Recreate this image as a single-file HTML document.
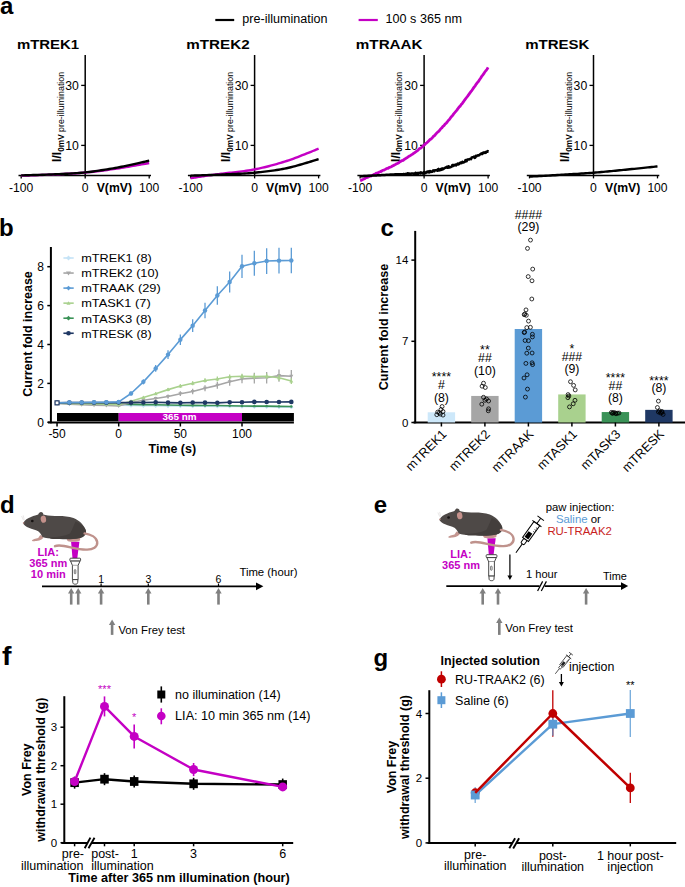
<!DOCTYPE html>
<html><head><meta charset="utf-8"><title>Figure</title>
<style>
html,body{margin:0;padding:0;background:#fff;}
svg{display:block;}
text{font-family:"Liberation Sans",sans-serif;}
</style></head>
<body>
<svg width="685" height="887" viewBox="0 0 685 887">
<rect width="685" height="887" fill="#fff"/>
<text x="0.00" y="14.00" font-size="24" font-weight="bold">a</text>
<line x1="215.30" y1="20.00" x2="234.20" y2="20.00" stroke="#000" stroke-width="2.2"/>
<text x="242.30" y="23.20" font-size="12.5" textLength="85.20" lengthAdjust="spacingAndGlyphs">pre-illumination</text>
<line x1="358.60" y1="20.00" x2="377.80" y2="20.00" stroke="#c400c4" stroke-width="2.2"/>
<text x="385.60" y="23.20" font-size="12.5" textLength="76.30" lengthAdjust="spacingAndGlyphs">100 s 365 nm</text>
<text x="16.90" y="48.80" font-size="13.5" font-weight="bold" textLength="62.30" lengthAdjust="spacingAndGlyphs">mTREK1</text>
<line x1="85.20" y1="55.00" x2="85.20" y2="176.15" stroke="#000" stroke-width="1.5"/>
<line x1="18.50" y1="175.40" x2="151.00" y2="175.40" stroke="#000" stroke-width="1.5"/>
<line x1="81.20" y1="85.40" x2="85.20" y2="85.40" stroke="#000" stroke-width="1.3"/>
<text x="78.90" y="89.60" font-size="12" text-anchor="end" textLength="13.60" lengthAdjust="spacingAndGlyphs">30</text>
<line x1="81.20" y1="145.40" x2="85.20" y2="145.40" stroke="#000" stroke-width="1.3"/>
<text x="78.90" y="149.60" font-size="12" text-anchor="end" textLength="13.60" lengthAdjust="spacingAndGlyphs">10</text>
<line x1="21.20" y1="175.40" x2="21.20" y2="178.40" stroke="#000" stroke-width="1.3"/>
<line x1="85.20" y1="175.40" x2="85.20" y2="178.40" stroke="#000" stroke-width="1.3"/>
<line x1="149.20" y1="175.40" x2="149.20" y2="178.40" stroke="#000" stroke-width="1.3"/>
<text x="21.20" y="191.60" font-size="12" text-anchor="middle" textLength="24.20" lengthAdjust="spacingAndGlyphs">-100</text>
<text x="85.20" y="191.60" font-size="12" text-anchor="middle" textLength="6.80" lengthAdjust="spacingAndGlyphs">0</text>
<text x="96.70" y="191.60" font-size="12" font-weight="bold" textLength="35.30" lengthAdjust="spacingAndGlyphs">V(mV)</text>
<text x="149.20" y="191.60" font-size="12" text-anchor="middle" textLength="20.20" lengthAdjust="spacingAndGlyphs">100</text>
<text transform="translate(60.60,162.00) rotate(-90)" font-size="12.2" font-weight="bold">I/I<tspan font-size="8.3" dy="2.9">0mV </tspan><tspan font-size="8.9" font-weight="normal">pre-illumination</tspan></text>
<polyline points="21.20,175.70 22.32,175.66 23.67,175.61 25.22,175.56 26.95,175.50 28.84,175.44 30.86,175.37 32.99,175.30 35.20,175.22 37.48,175.14 39.79,175.06 42.13,174.97 44.45,174.88 46.74,174.79 48.98,174.69 51.14,174.60 53.20,174.50 55.20,174.40 57.20,174.31 59.20,174.21 61.20,174.11 63.20,174.02 65.20,173.92 67.20,173.81 69.20,173.70 71.20,173.59 73.20,173.47 75.20,173.34 77.20,173.20 79.20,173.06 81.20,172.90 83.20,172.73 85.20,172.55 87.20,172.36 89.20,172.15 91.20,171.94 93.20,171.72 95.20,171.48 97.20,171.24 99.20,171.00 101.20,170.74 103.20,170.48 105.20,170.21 107.20,169.94 109.20,169.66 111.20,169.37 113.20,169.09 115.20,168.79 117.20,168.50 119.26,168.19 121.42,167.85 123.66,167.49 125.95,167.12 128.27,166.73 130.61,166.34 132.92,165.94 135.20,165.55 137.41,165.16 139.54,164.79 141.56,164.43 143.45,164.10 145.18,163.80 146.73,163.53 148.08,163.29 149.20,163.10" fill="none" stroke="#c400c4" stroke-width="2.4" stroke-linejoin="round"/>
<polyline points="21.20,175.40 22.32,175.36 23.67,175.33 25.22,175.28 26.95,175.23 28.84,175.18 30.86,175.12 32.99,175.06 35.20,175.00 37.48,174.93 39.79,174.86 42.13,174.78 44.45,174.70 46.74,174.62 48.98,174.53 51.14,174.44 53.20,174.35 55.20,174.26 57.20,174.17 59.20,174.08 61.20,173.99 63.20,173.90 65.20,173.81 67.20,173.71 69.20,173.61 71.20,173.50 73.20,173.38 75.20,173.25 77.20,173.11 79.20,172.95 81.20,172.79 83.20,172.60 85.20,172.40 87.20,172.18 89.20,171.95 91.20,171.71 93.20,171.45 95.20,171.18 97.20,170.90 99.20,170.61 101.20,170.31 103.20,170.00 105.20,169.68 107.20,169.35 109.20,169.01 111.20,168.67 113.20,168.32 115.20,167.96 117.20,167.60 119.26,167.21 121.42,166.79 123.66,166.34 125.95,165.86 128.27,165.37 130.61,164.86 132.92,164.36 135.20,163.85 137.41,163.35 139.54,162.87 141.56,162.42 143.45,161.99 145.18,161.60 146.73,161.25 148.08,160.95 149.20,160.70" fill="none" stroke="#000" stroke-width="2.4" stroke-linejoin="round"/>
<text x="186.30" y="48.80" font-size="13.5" font-weight="bold" textLength="63.30" lengthAdjust="spacingAndGlyphs">mTREK2</text>
<line x1="254.60" y1="55.00" x2="254.60" y2="176.15" stroke="#000" stroke-width="1.5"/>
<line x1="187.90" y1="175.40" x2="320.40" y2="175.40" stroke="#000" stroke-width="1.5"/>
<line x1="250.60" y1="85.40" x2="254.60" y2="85.40" stroke="#000" stroke-width="1.3"/>
<text x="248.30" y="89.60" font-size="12" text-anchor="end" textLength="13.60" lengthAdjust="spacingAndGlyphs">30</text>
<line x1="250.60" y1="145.40" x2="254.60" y2="145.40" stroke="#000" stroke-width="1.3"/>
<text x="248.30" y="149.60" font-size="12" text-anchor="end" textLength="13.60" lengthAdjust="spacingAndGlyphs">10</text>
<line x1="190.60" y1="175.40" x2="190.60" y2="178.40" stroke="#000" stroke-width="1.3"/>
<line x1="254.60" y1="175.40" x2="254.60" y2="178.40" stroke="#000" stroke-width="1.3"/>
<line x1="318.60" y1="175.40" x2="318.60" y2="178.40" stroke="#000" stroke-width="1.3"/>
<text x="190.60" y="191.60" font-size="12" text-anchor="middle" textLength="24.20" lengthAdjust="spacingAndGlyphs">-100</text>
<text x="254.60" y="191.60" font-size="12" text-anchor="middle" textLength="6.80" lengthAdjust="spacingAndGlyphs">0</text>
<text x="266.10" y="191.60" font-size="12" font-weight="bold" textLength="35.30" lengthAdjust="spacingAndGlyphs">V(mV)</text>
<text x="318.60" y="191.60" font-size="12" text-anchor="middle" textLength="20.20" lengthAdjust="spacingAndGlyphs">100</text>
<text transform="translate(230.00,162.00) rotate(-90)" font-size="12.2" font-weight="bold">I/I<tspan font-size="8.3" dy="2.9">0mV </tspan><tspan font-size="8.9" font-weight="normal">pre-illumination</tspan></text>
<polyline points="190.60,178.25 191.16,178.16 191.83,178.05 192.61,177.92 193.47,177.78 194.42,177.63 195.43,177.46 196.49,177.29 197.60,177.11 198.74,176.92 199.90,176.74 201.06,176.55 202.22,176.37 203.37,176.19 204.49,176.01 205.57,175.85 206.60,175.70 207.57,175.56 208.49,175.43 209.37,175.31 210.22,175.19 211.06,175.08 211.90,174.97 212.74,174.86 213.60,174.75 214.49,174.64 215.43,174.52 216.42,174.40 217.47,174.26 218.61,174.12 219.83,173.96 221.16,173.79 222.60,173.60 224.16,173.40 225.83,173.20 227.61,173.00 229.47,172.80 231.42,172.58 233.43,172.36 235.49,172.13 237.60,171.89 239.74,171.64 241.90,171.37 244.06,171.09 246.22,170.79 248.37,170.48 250.49,170.14 252.57,169.78 254.60,169.40 256.60,169.00 258.60,168.58 260.60,168.14 262.60,167.69 264.60,167.22 266.60,166.73 268.60,166.23 270.60,165.71 272.60,165.17 274.60,164.62 276.60,164.05 278.60,163.47 280.60,162.88 282.60,162.27 284.60,161.64 286.60,161.00 288.66,160.32 290.82,159.57 293.06,158.76 295.35,157.91 297.67,157.03 300.01,156.13 302.32,155.23 304.60,154.32 306.81,153.44 308.94,152.58 310.96,151.77 312.85,151.00 314.58,150.30 316.13,149.68 317.48,149.14 318.60,148.70" fill="none" stroke="#c400c4" stroke-width="2.4" stroke-linejoin="round"/>
<polyline points="190.60,175.70 191.72,175.66 193.07,175.61 194.62,175.56 196.35,175.50 198.24,175.43 200.26,175.36 202.39,175.29 204.60,175.21 206.88,175.13 209.19,175.05 211.53,174.96 213.85,174.87 216.14,174.78 218.38,174.69 220.54,174.59 222.60,174.50 224.60,174.41 226.60,174.32 228.60,174.24 230.60,174.16 232.60,174.07 234.60,173.99 236.60,173.90 238.60,173.81 240.60,173.71 242.60,173.60 244.60,173.48 246.60,173.35 248.60,173.21 250.60,173.06 252.60,172.89 254.60,172.70 256.60,172.50 258.60,172.30 260.60,172.09 262.60,171.87 264.60,171.64 266.60,171.41 268.60,171.16 270.60,170.90 272.60,170.63 274.60,170.34 276.60,170.03 278.60,169.70 280.60,169.36 282.60,169.00 284.60,168.61 286.60,168.20 288.66,167.74 290.82,167.23 293.06,166.66 295.35,166.06 297.67,165.42 300.01,164.76 302.32,164.09 304.60,163.42 306.81,162.76 308.94,162.11 310.96,161.50 312.85,160.92 314.58,160.39 316.13,159.93 317.48,159.52 318.60,159.20" fill="none" stroke="#000" stroke-width="2.4" stroke-linejoin="round"/>
<text x="355.80" y="48.80" font-size="13.5" font-weight="bold" textLength="66.80" lengthAdjust="spacingAndGlyphs">mTRAAK</text>
<line x1="424.10" y1="55.00" x2="424.10" y2="176.15" stroke="#000" stroke-width="1.5"/>
<line x1="357.40" y1="175.40" x2="489.90" y2="175.40" stroke="#000" stroke-width="1.5"/>
<line x1="420.10" y1="85.40" x2="424.10" y2="85.40" stroke="#000" stroke-width="1.3"/>
<text x="417.80" y="89.60" font-size="12" text-anchor="end" textLength="13.60" lengthAdjust="spacingAndGlyphs">30</text>
<line x1="420.10" y1="145.40" x2="424.10" y2="145.40" stroke="#000" stroke-width="1.3"/>
<text x="417.80" y="149.60" font-size="12" text-anchor="end" textLength="13.60" lengthAdjust="spacingAndGlyphs">10</text>
<line x1="360.10" y1="175.40" x2="360.10" y2="178.40" stroke="#000" stroke-width="1.3"/>
<line x1="424.10" y1="175.40" x2="424.10" y2="178.40" stroke="#000" stroke-width="1.3"/>
<line x1="488.10" y1="175.40" x2="488.10" y2="178.40" stroke="#000" stroke-width="1.3"/>
<text x="360.10" y="191.60" font-size="12" text-anchor="middle" textLength="24.20" lengthAdjust="spacingAndGlyphs">-100</text>
<text x="424.10" y="191.60" font-size="12" text-anchor="middle" textLength="6.80" lengthAdjust="spacingAndGlyphs">0</text>
<text x="435.60" y="191.60" font-size="12" font-weight="bold" textLength="35.30" lengthAdjust="spacingAndGlyphs">V(mV)</text>
<text x="488.10" y="191.60" font-size="12" text-anchor="middle" textLength="20.20" lengthAdjust="spacingAndGlyphs">100</text>
<text transform="translate(399.50,162.00) rotate(-90)" font-size="12.2" font-weight="bold">I/I<tspan font-size="8.3" dy="2.9">0mV </tspan><tspan font-size="8.9" font-weight="normal">pre-illumination</tspan></text>
<polyline points="360.10,180.69 361.18,180.31 362.25,179.69 363.33,179.29 364.40,178.79 365.48,178.00 366.55,177.48 367.63,177.39 368.71,176.62 369.78,176.12 370.86,176.02 371.93,175.28 373.01,174.99 374.08,174.34 375.16,173.95 376.23,173.23 377.31,173.00 378.39,172.64 379.46,172.00 380.54,171.63 381.61,171.12 382.69,170.33 383.76,170.19 384.84,169.62 385.92,168.98 386.99,168.34 388.07,168.25 389.14,167.54 390.22,167.14 391.29,166.70 392.37,166.08 393.44,165.64 394.52,164.82 395.60,164.46 396.67,163.72 397.75,163.38 398.82,162.76 399.90,161.77 400.97,161.18 402.05,160.59 403.13,160.33 404.20,159.42 405.28,158.86 406.35,158.02 407.43,157.44 408.50,156.69 409.58,155.96 410.65,155.35 411.73,154.61 412.81,154.02 413.88,153.14 414.96,152.49 416.03,151.66 417.11,150.91 418.18,149.93 419.26,148.84 420.34,148.33 421.41,147.52 422.49,146.60 423.56,145.53 424.64,144.69 425.71,143.51 426.79,142.87 427.86,141.78 428.94,140.66 430.02,139.56 431.09,138.94 432.17,137.99 433.24,136.49 434.32,135.80 435.39,134.53 436.47,133.31 437.55,132.28 438.62,131.40 439.70,130.32 440.77,128.76 441.85,127.89 442.92,126.42 444.00,125.57 445.07,124.17 446.15,123.22 447.23,122.04 448.30,120.55 449.38,119.54 450.45,117.92 451.53,116.52 452.60,115.48 453.68,113.88 454.76,112.63 455.83,111.40 456.91,110.15 457.98,108.56 459.06,107.13 460.13,106.16 461.21,104.49 462.28,103.41 463.36,101.96 464.44,100.28 465.51,98.89 466.59,97.48 467.66,96.09 468.74,94.61 469.81,93.13 470.89,91.69 471.97,90.37 473.04,88.68 474.12,87.15 475.19,85.80 476.27,84.06 477.34,82.60 478.42,81.43 479.49,79.70 480.57,78.20 481.65,76.43 482.72,75.12 483.80,73.69 484.87,71.90 485.95,70.69 487.02,69.19 488.10,67.40" fill="none" stroke="#c400c4" stroke-width="2.8" stroke-linejoin="round"/>
<polyline points="360.10,176.30 360.38,176.28 360.67,176.27 360.98,176.25 361.30,176.23 361.65,176.21 362.00,176.19 362.38,176.17 362.76,176.15 363.17,176.13 363.58,176.10 364.01,176.08 364.45,176.06 364.91,176.03 365.37,176.00 365.85,175.98 366.34,175.95 366.84,175.92 367.35,175.89 367.87,175.86 368.40,175.83 368.93,175.80 369.48,175.77 370.03,175.74 370.60,175.71 371.16,175.68 371.74,175.65 372.32,175.61 372.91,175.58 373.50,175.55 374.10,175.51 374.70,175.48 375.31,175.44 375.92,175.41 376.53,175.38 377.15,175.34 377.76,175.31 378.38,175.27 379.00,175.24 379.63,175.20 380.25,175.17 380.87,175.13 381.49,175.10 382.11,175.06 382.73,175.03 383.35,174.99 383.97,174.96 384.58,174.92 385.19,174.89 385.79,174.85 386.40,174.82 386.99,174.79 387.59,174.75 388.17,174.72 388.76,174.69 389.33,174.66 389.90,174.62 390.46,174.59 391.02,174.56 391.56,174.53 392.10,174.50 392.63,174.47 393.17,174.44 393.70,174.42 394.23,174.39 394.77,174.37 395.30,174.35 395.83,174.33 396.37,174.31 396.90,174.29 397.43,174.27 397.97,174.26 398.50,174.24 399.03,174.23 399.57,174.21 400.10,174.20 400.63,174.18 401.17,174.17 401.70,174.16 402.23,174.15 402.77,174.13 403.30,174.12 403.83,174.11 404.37,174.32 404.90,174.02 405.43,174.39 405.97,173.79 406.50,174.41 407.03,174.45 407.57,173.15 408.10,173.20 408.63,174.29 409.17,174.79 409.70,173.49 410.23,173.84 410.77,174.06 411.30,173.55 411.83,173.60 412.37,173.49 412.90,173.56 413.43,173.94 413.97,173.38 414.50,173.48 415.03,174.16 415.57,172.78 416.10,173.72 416.63,173.98 417.17,173.17 417.70,172.96 418.23,173.96 418.77,172.89 419.30,172.75 419.83,173.14 420.37,173.55 420.90,172.42 421.43,172.75 421.97,172.70 422.50,173.53 423.03,172.75 423.57,173.42 424.10,172.10 424.63,172.32 425.17,172.80 425.70,173.14 426.23,172.27 426.77,171.77 427.30,171.49 427.83,172.13 428.37,171.42 428.90,172.43 429.43,172.39 429.97,171.10 430.50,171.17 431.03,172.02 431.57,171.61 432.10,171.80 432.63,170.85 433.17,170.35 433.70,170.53 434.23,171.31 434.77,170.25 435.30,170.27 435.83,170.27 436.37,170.15 436.90,170.01 437.43,170.80 437.97,169.30 438.50,168.89 439.03,170.45 439.57,170.20 440.10,170.26 440.63,169.13 441.17,169.91 441.70,169.73 442.23,168.32 442.77,169.12 443.30,169.14 443.83,168.68 444.37,168.27 444.90,167.71 445.43,167.65 445.97,167.29 446.50,166.85 447.03,167.63 447.57,166.93 448.10,167.71 448.63,166.17 449.17,167.56 449.70,167.02 450.23,167.26 450.77,167.05 451.30,166.89 451.83,166.14 452.37,164.95 452.90,166.10 453.43,164.89 453.97,164.95 454.50,165.43 455.03,165.00 455.57,164.62 456.10,165.39 456.64,164.62 457.18,163.94 457.74,163.59 458.30,164.48 458.87,163.58 459.44,163.92 460.03,162.92 460.61,162.42 461.21,162.80 461.80,163.08 462.41,161.68 463.01,162.55 463.62,162.54 464.23,162.09 464.85,161.87 465.47,160.15 466.09,161.01 466.71,161.17 467.33,159.45 467.95,159.59 468.57,159.32 469.20,159.52 469.82,159.07 470.44,158.89 471.05,159.17 471.67,157.51 472.28,157.34 472.89,157.20 473.50,156.93 474.10,156.57 474.70,157.93 475.29,157.46 475.88,155.81 476.46,156.30 477.04,155.71 477.60,155.45 478.17,155.27 478.72,155.55 479.27,155.20 479.80,154.55 480.33,154.01 480.85,154.02 481.36,153.42 481.86,153.97 482.35,154.04 482.83,153.22 483.29,152.47 483.75,152.44 484.19,152.60 484.62,152.82 485.03,152.95 485.44,152.05 485.82,152.64 486.20,152.15 486.55,151.65 486.90,151.39 487.22,151.47 487.53,151.71 487.82,151.07 488.10,151.45" fill="none" stroke="#000" stroke-width="2.5" stroke-linejoin="round"/>
<text x="525.20" y="48.80" font-size="13.5" font-weight="bold" textLength="64.30" lengthAdjust="spacingAndGlyphs">mTRESK</text>
<line x1="593.50" y1="55.00" x2="593.50" y2="176.15" stroke="#000" stroke-width="1.5"/>
<line x1="526.80" y1="175.40" x2="659.30" y2="175.40" stroke="#000" stroke-width="1.5"/>
<line x1="589.50" y1="85.40" x2="593.50" y2="85.40" stroke="#000" stroke-width="1.3"/>
<text x="587.20" y="89.60" font-size="12" text-anchor="end" textLength="13.60" lengthAdjust="spacingAndGlyphs">30</text>
<line x1="589.50" y1="145.40" x2="593.50" y2="145.40" stroke="#000" stroke-width="1.3"/>
<text x="587.20" y="149.60" font-size="12" text-anchor="end" textLength="13.60" lengthAdjust="spacingAndGlyphs">10</text>
<line x1="529.50" y1="175.40" x2="529.50" y2="178.40" stroke="#000" stroke-width="1.3"/>
<line x1="593.50" y1="175.40" x2="593.50" y2="178.40" stroke="#000" stroke-width="1.3"/>
<line x1="657.50" y1="175.40" x2="657.50" y2="178.40" stroke="#000" stroke-width="1.3"/>
<text x="529.50" y="191.60" font-size="12" text-anchor="middle" textLength="24.20" lengthAdjust="spacingAndGlyphs">-100</text>
<text x="593.50" y="191.60" font-size="12" text-anchor="middle" textLength="6.80" lengthAdjust="spacingAndGlyphs">0</text>
<text x="605.00" y="191.60" font-size="12" font-weight="bold" textLength="35.30" lengthAdjust="spacingAndGlyphs">V(mV)</text>
<text x="657.50" y="191.60" font-size="12" text-anchor="middle" textLength="20.20" lengthAdjust="spacingAndGlyphs">100</text>
<text transform="translate(568.90,162.00) rotate(-90)" font-size="12.2" font-weight="bold">I/I<tspan font-size="8.3" dy="2.9">0mV </tspan><tspan font-size="8.9" font-weight="normal">pre-illumination</tspan></text>
<polyline points="529.50,176.60 530.62,176.54 531.97,176.46 533.52,176.38 535.25,176.28 537.14,176.18 539.16,176.07 541.29,175.95 543.50,175.83 545.78,175.71 548.09,175.58 550.43,175.45 552.75,175.31 555.04,175.18 557.28,175.05 559.44,174.92 561.50,174.80 563.50,174.68 565.50,174.56 567.50,174.44 569.50,174.32 571.50,174.20 573.50,174.07 575.50,173.95 577.50,173.83 579.50,173.70 581.50,173.57 583.50,173.43 585.50,173.30 587.50,173.15 589.50,173.01 591.50,172.86 593.50,172.70 595.50,172.54 597.50,172.37 599.50,172.20 601.50,172.02 603.50,171.84 605.50,171.65 607.50,171.47 609.50,171.28 611.50,171.08 613.50,170.89 615.50,170.69 617.50,170.49 619.50,170.29 621.50,170.10 623.50,169.90 625.50,169.70 627.56,169.50 629.72,169.28 631.96,169.05 634.25,168.82 636.57,168.58 638.91,168.34 641.22,168.10 643.50,167.86 645.71,167.63 647.84,167.41 649.86,167.20 651.75,167.00 653.48,166.82 655.03,166.66 656.38,166.52 657.50,166.40" fill="none" stroke="#000" stroke-width="2.4" stroke-linejoin="round"/>
<text x="-1.00" y="235.90" font-size="24" font-weight="bold">b</text>
<line x1="50.90" y1="247.00" x2="50.90" y2="423.30" stroke="#000" stroke-width="2"/>
<line x1="48.00" y1="422.50" x2="293.90" y2="422.50" stroke="#000" stroke-width="2"/>
<line x1="47.30" y1="422.30" x2="50.90" y2="422.30" stroke="#000" stroke-width="1.5"/>
<text x="43.90" y="426.50" font-size="12" text-anchor="end">0</text>
<line x1="47.30" y1="383.40" x2="50.90" y2="383.40" stroke="#000" stroke-width="1.5"/>
<text x="43.90" y="387.60" font-size="12" text-anchor="end">2</text>
<line x1="47.30" y1="344.50" x2="50.90" y2="344.50" stroke="#000" stroke-width="1.5"/>
<text x="43.90" y="348.70" font-size="12" text-anchor="end">4</text>
<line x1="47.30" y1="305.60" x2="50.90" y2="305.60" stroke="#000" stroke-width="1.5"/>
<text x="43.90" y="309.80" font-size="12" text-anchor="end">6</text>
<line x1="47.30" y1="266.70" x2="50.90" y2="266.70" stroke="#000" stroke-width="1.5"/>
<text x="43.90" y="270.90" font-size="12" text-anchor="end">8</text>
<line x1="57.05" y1="422.50" x2="57.05" y2="426.50" stroke="#000" stroke-width="1.5"/>
<text x="57.05" y="438.40" font-size="12" text-anchor="middle">-50</text>
<line x1="118.70" y1="422.50" x2="118.70" y2="426.50" stroke="#000" stroke-width="1.5"/>
<text x="118.70" y="438.40" font-size="12" text-anchor="middle">0</text>
<line x1="180.35" y1="422.50" x2="180.35" y2="426.50" stroke="#000" stroke-width="1.5"/>
<text x="180.35" y="438.40" font-size="12" text-anchor="middle">50</text>
<line x1="242.00" y1="422.50" x2="242.00" y2="426.50" stroke="#000" stroke-width="1.5"/>
<text x="242.00" y="438.40" font-size="12" text-anchor="middle">100</text>
<text x="172.30" y="453.10" font-size="12" font-weight="bold" text-anchor="middle" textLength="47.50" lengthAdjust="spacingAndGlyphs">Time (s)</text>
<text x="32.30" y="334.00" font-size="12.5" font-weight="bold" text-anchor="middle" textLength="125.50" lengthAdjust="spacingAndGlyphs" transform="rotate(-90 32.30 334.00)">Current fold increase</text>
<rect x="57" y="413" width="61.70" height="8.2" fill="#000"/>
<rect x="118.70" y="413" width="123.30" height="8.2" fill="#c400c4"/>
<rect x="242.00" y="413" width="51.90" height="8.2" fill="#000"/>
<text x="179.60" y="420.30" font-size="9.8" font-weight="bold" text-anchor="middle" fill="#fff" textLength="34.00" lengthAdjust="spacingAndGlyphs">365 nm</text>
<polyline points="57.05,402.85 69.38,403.43 81.71,404.02 94.04,404.41 106.37,404.80 118.70,405.18 131.03,405.57 143.36,405.77 155.69,405.77 168.02,405.96 180.35,405.96 192.68,406.16 205.01,406.16 217.34,406.35 229.67,406.35 242.00,406.55 254.33,406.74 266.66,406.74 278.99,406.93 291.32,407.13" fill="none" stroke="#c5e3f6" stroke-width="1.6" stroke-linejoin="round"/>
<path d="M57.05,400.65 L59.25,402.85 L57.05,405.05 L54.85,402.85Z" fill="#c5e3f6"/>
<path d="M69.38,401.23 L71.58,403.43 L69.38,405.63 L67.18,403.43Z" fill="#c5e3f6"/>
<path d="M81.71,401.82 L83.91,404.02 L81.71,406.22 L79.51,404.02Z" fill="#c5e3f6"/>
<path d="M94.04,402.21 L96.24,404.41 L94.04,406.61 L91.84,404.41Z" fill="#c5e3f6"/>
<path d="M106.37,402.60 L108.57,404.80 L106.37,407.00 L104.17,404.80Z" fill="#c5e3f6"/>
<path d="M118.70,402.98 L120.90,405.18 L118.70,407.38 L116.50,405.18Z" fill="#c5e3f6"/>
<path d="M131.03,403.37 L133.23,405.57 L131.03,407.77 L128.83,405.57Z" fill="#c5e3f6"/>
<path d="M143.36,403.57 L145.56,405.77 L143.36,407.97 L141.16,405.77Z" fill="#c5e3f6"/>
<path d="M155.69,403.57 L157.89,405.77 L155.69,407.97 L153.49,405.77Z" fill="#c5e3f6"/>
<path d="M168.02,403.76 L170.22,405.96 L168.02,408.16 L165.82,405.96Z" fill="#c5e3f6"/>
<path d="M180.35,403.76 L182.55,405.96 L180.35,408.16 L178.15,405.96Z" fill="#c5e3f6"/>
<path d="M192.68,403.96 L194.88,406.16 L192.68,408.36 L190.48,406.16Z" fill="#c5e3f6"/>
<path d="M205.01,403.96 L207.21,406.16 L205.01,408.36 L202.81,406.16Z" fill="#c5e3f6"/>
<path d="M217.34,404.15 L219.54,406.35 L217.34,408.55 L215.14,406.35Z" fill="#c5e3f6"/>
<path d="M229.67,404.15 L231.87,406.35 L229.67,408.55 L227.47,406.35Z" fill="#c5e3f6"/>
<path d="M242.00,404.35 L244.20,406.55 L242.00,408.75 L239.80,406.55Z" fill="#c5e3f6"/>
<path d="M254.33,404.54 L256.53,406.74 L254.33,408.94 L252.13,406.74Z" fill="#c5e3f6"/>
<path d="M266.66,404.54 L268.86,406.74 L266.66,408.94 L264.46,406.74Z" fill="#c5e3f6"/>
<path d="M278.99,404.73 L281.19,406.93 L278.99,409.13 L276.79,406.93Z" fill="#c5e3f6"/>
<path d="M291.32,404.93 L293.52,407.13 L291.32,409.33 L289.12,407.13Z" fill="#c5e3f6"/>
<polyline points="57.05,402.85 69.38,403.24 81.71,403.63 94.04,403.82 106.37,404.02 118.70,404.21 131.03,404.41 143.36,404.60 155.69,404.80 168.02,404.99 180.35,405.18 192.68,405.38 205.01,405.57 217.34,405.57 229.67,405.77 242.00,405.96 254.33,406.16 266.66,406.16 278.99,406.35 291.32,406.55" fill="none" stroke="#3a9257" stroke-width="1.6" stroke-linejoin="round"/>
<circle cx="57.05" cy="402.85" r="1.2" fill="#3a9257"/>
<circle cx="69.38" cy="403.24" r="1.2" fill="#3a9257"/>
<circle cx="81.71" cy="403.63" r="1.2" fill="#3a9257"/>
<circle cx="94.04" cy="403.82" r="1.2" fill="#3a9257"/>
<circle cx="106.37" cy="404.02" r="1.2" fill="#3a9257"/>
<circle cx="118.70" cy="404.21" r="1.2" fill="#3a9257"/>
<circle cx="131.03" cy="404.41" r="1.2" fill="#3a9257"/>
<circle cx="143.36" cy="404.60" r="1.2" fill="#3a9257"/>
<circle cx="155.69" cy="404.80" r="1.2" fill="#3a9257"/>
<circle cx="168.02" cy="404.99" r="1.2" fill="#3a9257"/>
<circle cx="180.35" cy="405.18" r="1.2" fill="#3a9257"/>
<circle cx="192.68" cy="405.38" r="1.2" fill="#3a9257"/>
<circle cx="205.01" cy="405.57" r="1.2" fill="#3a9257"/>
<circle cx="217.34" cy="405.57" r="1.2" fill="#3a9257"/>
<circle cx="229.67" cy="405.77" r="1.2" fill="#3a9257"/>
<circle cx="242.00" cy="405.96" r="1.2" fill="#3a9257"/>
<circle cx="254.33" cy="406.16" r="1.2" fill="#3a9257"/>
<circle cx="266.66" cy="406.16" r="1.2" fill="#3a9257"/>
<circle cx="278.99" cy="406.35" r="1.2" fill="#3a9257"/>
<circle cx="291.32" cy="406.55" r="1.2" fill="#3a9257"/>
<line x1="57.05" y1="402.85" x2="57.05" y2="404.02" stroke="#a6a6a6" stroke-width="1.3"/>
<line x1="69.38" y1="403.63" x2="69.38" y2="404.80" stroke="#a6a6a6" stroke-width="1.3"/>
<line x1="81.71" y1="404.21" x2="81.71" y2="405.38" stroke="#a6a6a6" stroke-width="1.3"/>
<line x1="94.04" y1="404.60" x2="94.04" y2="405.77" stroke="#a6a6a6" stroke-width="1.3"/>
<line x1="106.37" y1="404.99" x2="106.37" y2="406.16" stroke="#a6a6a6" stroke-width="1.3"/>
<line x1="118.70" y1="405.38" x2="118.70" y2="406.55" stroke="#a6a6a6" stroke-width="1.3"/>
<line x1="131.03" y1="401.49" x2="131.03" y2="403.43" stroke="#a6a6a6" stroke-width="1.3"/>
<line x1="143.36" y1="398.96" x2="143.36" y2="401.68" stroke="#a6a6a6" stroke-width="1.3"/>
<line x1="155.69" y1="396.82" x2="155.69" y2="400.32" stroke="#a6a6a6" stroke-width="1.3"/>
<line x1="168.02" y1="394.49" x2="168.02" y2="398.38" stroke="#a6a6a6" stroke-width="1.3"/>
<line x1="180.35" y1="391.37" x2="180.35" y2="396.04" stroke="#a6a6a6" stroke-width="1.3"/>
<line x1="192.68" y1="388.85" x2="192.68" y2="394.29" stroke="#a6a6a6" stroke-width="1.3"/>
<line x1="205.01" y1="385.15" x2="205.01" y2="391.37" stroke="#a6a6a6" stroke-width="1.3"/>
<line x1="217.34" y1="381.84" x2="217.34" y2="388.85" stroke="#a6a6a6" stroke-width="1.3"/>
<line x1="229.67" y1="377.95" x2="229.67" y2="385.73" stroke="#a6a6a6" stroke-width="1.3"/>
<line x1="242.00" y1="374.65" x2="242.00" y2="383.21" stroke="#a6a6a6" stroke-width="1.3"/>
<line x1="254.33" y1="372.70" x2="254.33" y2="383.59" stroke="#a6a6a6" stroke-width="1.3"/>
<line x1="266.66" y1="371.92" x2="266.66" y2="383.59" stroke="#a6a6a6" stroke-width="1.3"/>
<line x1="278.99" y1="369.40" x2="278.99" y2="381.84" stroke="#a6a6a6" stroke-width="1.3"/>
<line x1="291.32" y1="369.98" x2="291.32" y2="382.43" stroke="#a6a6a6" stroke-width="1.3"/>
<polyline points="57.05,403.43 69.38,404.21 81.71,404.80 94.04,405.18 106.37,405.57 118.70,405.96 131.03,402.46 143.36,400.32 155.69,398.57 168.02,396.43 180.35,393.71 192.68,391.57 205.01,388.26 217.34,385.35 229.67,381.84 242.00,378.93 254.33,378.15 266.66,377.76 278.99,375.62 291.32,376.20" fill="none" stroke="#a6a6a6" stroke-width="1.6" stroke-linejoin="round"/>
<path d="M55.05,401.93 L59.05,401.93 L57.05,405.43Z" fill="#a6a6a6"/>
<path d="M67.38,402.71 L71.38,402.71 L69.38,406.21Z" fill="#a6a6a6"/>
<path d="M79.71,403.30 L83.71,403.30 L81.71,406.80Z" fill="#a6a6a6"/>
<path d="M92.04,403.68 L96.04,403.68 L94.04,407.18Z" fill="#a6a6a6"/>
<path d="M104.37,404.07 L108.37,404.07 L106.37,407.57Z" fill="#a6a6a6"/>
<path d="M116.70,404.46 L120.70,404.46 L118.70,407.96Z" fill="#a6a6a6"/>
<path d="M129.03,400.96 L133.03,400.96 L131.03,404.46Z" fill="#a6a6a6"/>
<path d="M141.36,398.82 L145.36,398.82 L143.36,402.32Z" fill="#a6a6a6"/>
<path d="M153.69,397.07 L157.69,397.07 L155.69,400.57Z" fill="#a6a6a6"/>
<path d="M166.02,394.93 L170.02,394.93 L168.02,398.43Z" fill="#a6a6a6"/>
<path d="M178.35,392.21 L182.35,392.21 L180.35,395.71Z" fill="#a6a6a6"/>
<path d="M190.68,390.07 L194.68,390.07 L192.68,393.57Z" fill="#a6a6a6"/>
<path d="M203.01,386.76 L207.01,386.76 L205.01,390.26Z" fill="#a6a6a6"/>
<path d="M215.34,383.85 L219.34,383.85 L217.34,387.35Z" fill="#a6a6a6"/>
<path d="M227.67,380.34 L231.67,380.34 L229.67,383.84Z" fill="#a6a6a6"/>
<path d="M240.00,377.43 L244.00,377.43 L242.00,380.93Z" fill="#a6a6a6"/>
<path d="M252.33,376.65 L256.33,376.65 L254.33,380.15Z" fill="#a6a6a6"/>
<path d="M264.66,376.26 L268.66,376.26 L266.66,379.76Z" fill="#a6a6a6"/>
<path d="M276.99,374.12 L280.99,374.12 L278.99,377.62Z" fill="#a6a6a6"/>
<path d="M289.32,374.70 L293.32,374.70 L291.32,378.20Z" fill="#a6a6a6"/>
<line x1="57.05" y1="402.85" x2="57.05" y2="403.63" stroke="#a9d18e" stroke-width="1.3"/>
<line x1="69.38" y1="403.04" x2="69.38" y2="403.82" stroke="#a9d18e" stroke-width="1.3"/>
<line x1="81.71" y1="403.24" x2="81.71" y2="404.02" stroke="#a9d18e" stroke-width="1.3"/>
<line x1="94.04" y1="403.43" x2="94.04" y2="404.21" stroke="#a9d18e" stroke-width="1.3"/>
<line x1="106.37" y1="403.82" x2="106.37" y2="404.60" stroke="#a9d18e" stroke-width="1.3"/>
<line x1="118.70" y1="404.41" x2="118.70" y2="405.18" stroke="#a9d18e" stroke-width="1.3"/>
<line x1="131.03" y1="400.32" x2="131.03" y2="402.27" stroke="#a9d18e" stroke-width="1.3"/>
<line x1="143.36" y1="396.43" x2="143.36" y2="398.77" stroke="#a9d18e" stroke-width="1.3"/>
<line x1="155.69" y1="392.35" x2="155.69" y2="395.07" stroke="#a9d18e" stroke-width="1.3"/>
<line x1="168.02" y1="388.07" x2="168.02" y2="391.18" stroke="#a9d18e" stroke-width="1.3"/>
<line x1="180.35" y1="384.18" x2="180.35" y2="387.68" stroke="#a9d18e" stroke-width="1.3"/>
<line x1="192.68" y1="381.26" x2="192.68" y2="385.15" stroke="#a9d18e" stroke-width="1.3"/>
<line x1="205.01" y1="378.34" x2="205.01" y2="382.62" stroke="#a9d18e" stroke-width="1.3"/>
<line x1="217.34" y1="376.59" x2="217.34" y2="381.26" stroke="#a9d18e" stroke-width="1.3"/>
<line x1="229.67" y1="374.45" x2="229.67" y2="379.12" stroke="#a9d18e" stroke-width="1.3"/>
<line x1="242.00" y1="373.68" x2="242.00" y2="378.73" stroke="#a9d18e" stroke-width="1.3"/>
<line x1="254.33" y1="373.87" x2="254.33" y2="379.32" stroke="#a9d18e" stroke-width="1.3"/>
<line x1="266.66" y1="373.48" x2="266.66" y2="378.93" stroke="#a9d18e" stroke-width="1.3"/>
<line x1="278.99" y1="374.84" x2="278.99" y2="380.68" stroke="#a9d18e" stroke-width="1.3"/>
<line x1="291.32" y1="378.15" x2="291.32" y2="383.98" stroke="#a9d18e" stroke-width="1.3"/>
<polyline points="57.05,403.24 69.38,403.43 81.71,403.63 94.04,403.82 106.37,404.21 118.70,404.80 131.03,401.29 143.36,397.60 155.69,393.71 168.02,389.62 180.35,385.93 192.68,383.21 205.01,380.48 217.34,378.93 229.67,376.79 242.00,376.20 254.33,376.59 266.66,376.20 278.99,377.76 291.32,381.07" fill="none" stroke="#a9d18e" stroke-width="1.6" stroke-linejoin="round"/>
<path d="M55.05,404.74 L59.05,404.74 L57.05,401.24Z" fill="#a9d18e"/>
<path d="M67.38,404.93 L71.38,404.93 L69.38,401.43Z" fill="#a9d18e"/>
<path d="M79.71,405.13 L83.71,405.13 L81.71,401.63Z" fill="#a9d18e"/>
<path d="M92.04,405.32 L96.04,405.32 L94.04,401.82Z" fill="#a9d18e"/>
<path d="M104.37,405.71 L108.37,405.71 L106.37,402.21Z" fill="#a9d18e"/>
<path d="M116.70,406.30 L120.70,406.30 L118.70,402.80Z" fill="#a9d18e"/>
<path d="M129.03,402.79 L133.03,402.79 L131.03,399.29Z" fill="#a9d18e"/>
<path d="M141.36,399.10 L145.36,399.10 L143.36,395.60Z" fill="#a9d18e"/>
<path d="M153.69,395.21 L157.69,395.21 L155.69,391.71Z" fill="#a9d18e"/>
<path d="M166.02,391.12 L170.02,391.12 L168.02,387.62Z" fill="#a9d18e"/>
<path d="M178.35,387.43 L182.35,387.43 L180.35,383.93Z" fill="#a9d18e"/>
<path d="M190.68,384.71 L194.68,384.71 L192.68,381.21Z" fill="#a9d18e"/>
<path d="M203.01,381.98 L207.01,381.98 L205.01,378.48Z" fill="#a9d18e"/>
<path d="M215.34,380.43 L219.34,380.43 L217.34,376.93Z" fill="#a9d18e"/>
<path d="M227.67,378.29 L231.67,378.29 L229.67,374.79Z" fill="#a9d18e"/>
<path d="M240.00,377.70 L244.00,377.70 L242.00,374.20Z" fill="#a9d18e"/>
<path d="M252.33,378.09 L256.33,378.09 L254.33,374.59Z" fill="#a9d18e"/>
<path d="M264.66,377.70 L268.66,377.70 L266.66,374.20Z" fill="#a9d18e"/>
<path d="M276.99,379.26 L280.99,379.26 L278.99,375.76Z" fill="#a9d18e"/>
<path d="M289.32,382.57 L293.32,382.57 L291.32,379.07Z" fill="#a9d18e"/>
<polyline points="57.05,402.85 69.38,402.66 81.71,402.66 94.04,402.66 106.37,402.66 118.70,402.46 131.03,402.66 143.36,402.46 155.69,402.27 168.02,402.66 180.35,402.85 192.68,402.46 205.01,402.66 217.34,402.85 229.67,402.27 242.00,402.27 254.33,401.88 266.66,402.07 278.99,402.07 291.32,401.88" fill="none" stroke="#1f3864" stroke-width="1.6" stroke-linejoin="round"/>
<circle cx="57.05" cy="402.85" r="2.3" fill="#1f3864"/>
<circle cx="69.38" cy="402.66" r="2.3" fill="#1f3864"/>
<circle cx="81.71" cy="402.66" r="2.3" fill="#1f3864"/>
<circle cx="94.04" cy="402.66" r="2.3" fill="#1f3864"/>
<circle cx="106.37" cy="402.66" r="2.3" fill="#1f3864"/>
<circle cx="118.70" cy="402.46" r="2.3" fill="#1f3864"/>
<circle cx="131.03" cy="402.66" r="2.3" fill="#1f3864"/>
<circle cx="143.36" cy="402.46" r="2.3" fill="#1f3864"/>
<circle cx="155.69" cy="402.27" r="2.3" fill="#1f3864"/>
<circle cx="168.02" cy="402.66" r="2.3" fill="#1f3864"/>
<circle cx="180.35" cy="402.85" r="2.3" fill="#1f3864"/>
<circle cx="192.68" cy="402.46" r="2.3" fill="#1f3864"/>
<circle cx="205.01" cy="402.66" r="2.3" fill="#1f3864"/>
<circle cx="217.34" cy="402.85" r="2.3" fill="#1f3864"/>
<circle cx="229.67" cy="402.27" r="2.3" fill="#1f3864"/>
<circle cx="242.00" cy="402.27" r="2.3" fill="#1f3864"/>
<circle cx="254.33" cy="401.88" r="2.3" fill="#1f3864"/>
<circle cx="266.66" cy="402.07" r="2.3" fill="#1f3864"/>
<circle cx="278.99" cy="402.07" r="2.3" fill="#1f3864"/>
<circle cx="291.32" cy="401.88" r="2.3" fill="#1f3864"/>
<line x1="57.05" y1="402.46" x2="57.05" y2="403.24" stroke="#5b9bd5" stroke-width="1.3"/>
<line x1="69.38" y1="402.07" x2="69.38" y2="402.85" stroke="#5b9bd5" stroke-width="1.3"/>
<line x1="81.71" y1="402.07" x2="81.71" y2="402.85" stroke="#5b9bd5" stroke-width="1.3"/>
<line x1="94.04" y1="401.88" x2="94.04" y2="402.66" stroke="#5b9bd5" stroke-width="1.3"/>
<line x1="106.37" y1="401.88" x2="106.37" y2="402.66" stroke="#5b9bd5" stroke-width="1.3"/>
<line x1="118.70" y1="401.49" x2="118.70" y2="402.27" stroke="#5b9bd5" stroke-width="1.3"/>
<line x1="131.03" y1="391.57" x2="131.03" y2="395.46" stroke="#5b9bd5" stroke-width="1.3"/>
<line x1="143.36" y1="379.32" x2="143.36" y2="384.37" stroke="#5b9bd5" stroke-width="1.3"/>
<line x1="155.69" y1="365.12" x2="155.69" y2="371.73" stroke="#5b9bd5" stroke-width="1.3"/>
<line x1="168.02" y1="350.34" x2="168.02" y2="358.89" stroke="#5b9bd5" stroke-width="1.3"/>
<line x1="180.35" y1="334.39" x2="180.35" y2="344.89" stroke="#5b9bd5" stroke-width="1.3"/>
<line x1="192.68" y1="319.22" x2="192.68" y2="332.05" stroke="#5b9bd5" stroke-width="1.3"/>
<line x1="205.01" y1="302.68" x2="205.01" y2="318.24" stroke="#5b9bd5" stroke-width="1.3"/>
<line x1="217.34" y1="286.15" x2="217.34" y2="304.82" stroke="#5b9bd5" stroke-width="1.3"/>
<line x1="229.67" y1="271.56" x2="229.67" y2="292.57" stroke="#5b9bd5" stroke-width="1.3"/>
<line x1="242.00" y1="254.64" x2="242.00" y2="277.98" stroke="#5b9bd5" stroke-width="1.3"/>
<line x1="254.33" y1="250.75" x2="254.33" y2="275.65" stroke="#5b9bd5" stroke-width="1.3"/>
<line x1="266.66" y1="248.22" x2="266.66" y2="273.90" stroke="#5b9bd5" stroke-width="1.3"/>
<line x1="278.99" y1="247.83" x2="278.99" y2="273.51" stroke="#5b9bd5" stroke-width="1.3"/>
<line x1="291.32" y1="247.64" x2="291.32" y2="273.31" stroke="#5b9bd5" stroke-width="1.3"/>
<polyline points="57.05,402.85 69.38,402.46 81.71,402.46 94.04,402.27 106.37,402.27 118.70,401.88 131.03,393.51 143.36,381.84 155.69,368.42 168.02,354.61 180.35,339.64 192.68,325.63 205.01,310.46 217.34,295.49 229.67,282.07 242.00,266.31 254.33,263.20 266.66,261.06 278.99,260.67 291.32,260.48" fill="none" stroke="#5b9bd5" stroke-width="1.6" stroke-linejoin="round"/>
<circle cx="57.05" cy="402.85" r="2.2" fill="#5b9bd5"/>
<circle cx="69.38" cy="402.46" r="2.2" fill="#5b9bd5"/>
<circle cx="81.71" cy="402.46" r="2.2" fill="#5b9bd5"/>
<circle cx="94.04" cy="402.27" r="2.2" fill="#5b9bd5"/>
<circle cx="106.37" cy="402.27" r="2.2" fill="#5b9bd5"/>
<circle cx="118.70" cy="401.88" r="2.2" fill="#5b9bd5"/>
<circle cx="131.03" cy="393.51" r="2.2" fill="#5b9bd5"/>
<circle cx="143.36" cy="381.84" r="2.2" fill="#5b9bd5"/>
<circle cx="155.69" cy="368.42" r="2.2" fill="#5b9bd5"/>
<circle cx="168.02" cy="354.61" r="2.2" fill="#5b9bd5"/>
<circle cx="180.35" cy="339.64" r="2.2" fill="#5b9bd5"/>
<circle cx="192.68" cy="325.63" r="2.2" fill="#5b9bd5"/>
<circle cx="205.01" cy="310.46" r="2.2" fill="#5b9bd5"/>
<circle cx="217.34" cy="295.49" r="2.2" fill="#5b9bd5"/>
<circle cx="229.67" cy="282.07" r="2.2" fill="#5b9bd5"/>
<circle cx="242.00" cy="266.31" r="2.2" fill="#5b9bd5"/>
<circle cx="254.33" cy="263.20" r="2.2" fill="#5b9bd5"/>
<circle cx="266.66" cy="261.06" r="2.2" fill="#5b9bd5"/>
<circle cx="278.99" cy="260.67" r="2.2" fill="#5b9bd5"/>
<circle cx="291.32" cy="260.48" r="2.2" fill="#5b9bd5"/>
<rect x="55.05" y="400.85" width="4" height="4" fill="#fff" stroke="#1f3864" stroke-width="1.2"/>
<line x1="63.40" y1="258.00" x2="73.70" y2="258.00" stroke="#c5e3f6" stroke-width="1.6"/>
<path d="M68.50,255.60 L70.90,258.00 L68.50,260.40 L66.10,258.00Z" fill="#c5e3f6"/>
<text x="81.20" y="262.30" font-size="10.7" textLength="70.50" lengthAdjust="spacingAndGlyphs">mTREK1 (8)</text>
<line x1="63.40" y1="273.05" x2="73.70" y2="273.05" stroke="#a6a6a6" stroke-width="1.6"/>
<path d="M66.00,271.55 L71.00,271.55 L68.50,275.55Z" fill="#a6a6a6"/>
<text x="81.20" y="277.35" font-size="10.7" textLength="77.50" lengthAdjust="spacingAndGlyphs">mTREK2 (10)</text>
<line x1="63.40" y1="288.10" x2="73.70" y2="288.10" stroke="#5b9bd5" stroke-width="1.6"/>
<path d="M68.50,285.70 L70.90,288.10 L68.50,290.50 L66.10,288.10Z" fill="#5b9bd5"/>
<text x="81.20" y="292.40" font-size="10.7" textLength="79.50" lengthAdjust="spacingAndGlyphs">mTRAAK (29)</text>
<line x1="63.40" y1="303.15" x2="73.70" y2="303.15" stroke="#a9d18e" stroke-width="1.6"/>
<path d="M66.50,304.65 L70.50,304.65 L68.50,301.15Z" fill="#a9d18e"/>
<text x="81.20" y="307.45" font-size="10.7" textLength="69.50" lengthAdjust="spacingAndGlyphs">mTASK1 (7)</text>
<line x1="63.40" y1="318.20" x2="73.70" y2="318.20" stroke="#3a9257" stroke-width="1.6"/>
<path d="M68.50,315.80 L70.90,318.20 L68.50,320.60 L66.10,318.20Z" fill="#3a9257"/>
<text x="81.20" y="322.50" font-size="10.7" textLength="70.50" lengthAdjust="spacingAndGlyphs">mTASK3 (8)</text>
<line x1="63.40" y1="333.25" x2="73.70" y2="333.25" stroke="#1f3864" stroke-width="1.6"/>
<circle cx="68.50" cy="333.25" r="2.3" fill="#1f3864"/>
<text x="81.20" y="337.55" font-size="10.7" textLength="70.50" lengthAdjust="spacingAndGlyphs">mTRESK (8)</text>
<text x="380.50" y="236.00" font-size="24" font-weight="bold">c</text>
<line x1="415.20" y1="230.90" x2="415.20" y2="423.30" stroke="#000" stroke-width="2"/>
<line x1="413.50" y1="422.50" x2="685.00" y2="422.50" stroke="#000" stroke-width="2"/>
<line x1="411.40" y1="422.50" x2="415.20" y2="422.50" stroke="#000" stroke-width="1.5"/>
<text x="408.30" y="426.60" font-size="11.5" text-anchor="end">0</text>
<line x1="411.40" y1="341.30" x2="415.20" y2="341.30" stroke="#000" stroke-width="1.5"/>
<text x="408.30" y="345.40" font-size="11.5" text-anchor="end">7</text>
<line x1="411.40" y1="260.10" x2="415.20" y2="260.10" stroke="#000" stroke-width="1.5"/>
<text x="408.30" y="264.20" font-size="11.5" text-anchor="end">14</text>
<text x="388.40" y="327.00" font-size="12.5" font-weight="bold" text-anchor="middle" textLength="126.50" lengthAdjust="spacingAndGlyphs" transform="rotate(-90 388.40 327.00)">Current fold increase</text>
<rect x="427.70" y="412.29" width="27.4" height="10.21" fill="#cde8fa"/>
<line x1="441.40" y1="422.50" x2="441.40" y2="426.50" stroke="#000" stroke-width="1.5"/>
<text x="447.40" y="435.00" font-size="12.8" text-anchor="end" transform="rotate(-45 447.40 435.00)">mTREK1</text>
<rect x="471.20" y="395.94" width="27.4" height="26.56" fill="#a6a6a6"/>
<line x1="484.90" y1="422.50" x2="484.90" y2="426.50" stroke="#000" stroke-width="1.5"/>
<text x="490.90" y="435.00" font-size="12.8" text-anchor="end" transform="rotate(-45 490.90 435.00)">mTREK2</text>
<rect x="514.70" y="329.00" width="27.4" height="93.50" fill="#5b9bd5"/>
<line x1="528.40" y1="422.50" x2="528.40" y2="426.50" stroke="#000" stroke-width="1.5"/>
<text x="534.40" y="435.00" font-size="12.8" text-anchor="end" transform="rotate(-45 534.40 435.00)">mTRAAK</text>
<rect x="558.20" y="394.43" width="27.4" height="28.07" fill="#a9d18e"/>
<line x1="571.90" y1="422.50" x2="571.90" y2="426.50" stroke="#000" stroke-width="1.5"/>
<text x="577.90" y="435.00" font-size="12.8" text-anchor="end" transform="rotate(-45 577.90 435.00)">mTASK1</text>
<rect x="601.70" y="412.06" width="27.4" height="10.44" fill="#3a9257"/>
<line x1="615.40" y1="422.50" x2="615.40" y2="426.50" stroke="#000" stroke-width="1.5"/>
<text x="621.40" y="435.00" font-size="12.8" text-anchor="end" transform="rotate(-45 621.40 435.00)">mTASK3</text>
<rect x="645.20" y="409.86" width="27.4" height="12.64" fill="#1f3864"/>
<line x1="658.90" y1="422.50" x2="658.90" y2="426.50" stroke="#000" stroke-width="1.5"/>
<text x="664.90" y="435.00" font-size="12.8" text-anchor="end" transform="rotate(-45 664.90 435.00)">mTRESK</text>
<circle cx="442.10" cy="406.50" r="1.95" fill="none" stroke="#000" stroke-width="0.8"/>
<circle cx="441.00" cy="409.50" r="1.95" fill="none" stroke="#000" stroke-width="0.8"/>
<circle cx="437.70" cy="412.10" r="1.95" fill="none" stroke="#000" stroke-width="0.8"/>
<circle cx="443.00" cy="411.50" r="1.95" fill="none" stroke="#000" stroke-width="0.8"/>
<circle cx="436.80" cy="414.70" r="1.95" fill="none" stroke="#000" stroke-width="0.8"/>
<circle cx="440.40" cy="414.10" r="1.95" fill="none" stroke="#000" stroke-width="0.8"/>
<circle cx="443.00" cy="415.10" r="1.95" fill="none" stroke="#000" stroke-width="0.8"/>
<circle cx="439.30" cy="412.80" r="1.95" fill="none" stroke="#000" stroke-width="0.8"/>
<circle cx="483.50" cy="383.20" r="1.95" fill="none" stroke="#000" stroke-width="0.8"/>
<circle cx="482.10" cy="386.20" r="1.95" fill="none" stroke="#000" stroke-width="0.8"/>
<circle cx="485.30" cy="387.50" r="1.95" fill="none" stroke="#000" stroke-width="0.8"/>
<circle cx="483.50" cy="397.30" r="1.95" fill="none" stroke="#000" stroke-width="0.8"/>
<circle cx="485.00" cy="400.30" r="1.95" fill="none" stroke="#000" stroke-width="0.8"/>
<circle cx="488.60" cy="401.00" r="1.95" fill="none" stroke="#000" stroke-width="0.8"/>
<circle cx="481.80" cy="404.20" r="1.95" fill="none" stroke="#000" stroke-width="0.8"/>
<circle cx="488.60" cy="408.80" r="1.95" fill="none" stroke="#000" stroke-width="0.8"/>
<circle cx="488.30" cy="410.80" r="1.95" fill="none" stroke="#000" stroke-width="0.8"/>
<circle cx="486.50" cy="399.00" r="1.95" fill="none" stroke="#000" stroke-width="0.8"/>
<circle cx="530.50" cy="240.10" r="1.95" fill="none" stroke="#000" stroke-width="0.8"/>
<circle cx="527.50" cy="248.40" r="1.95" fill="none" stroke="#000" stroke-width="0.8"/>
<circle cx="532.70" cy="269.10" r="1.95" fill="none" stroke="#000" stroke-width="0.8"/>
<circle cx="528.20" cy="276.60" r="1.95" fill="none" stroke="#000" stroke-width="0.8"/>
<circle cx="532.00" cy="280.80" r="1.95" fill="none" stroke="#000" stroke-width="0.8"/>
<circle cx="531.80" cy="299.00" r="1.95" fill="none" stroke="#000" stroke-width="0.8"/>
<circle cx="526.00" cy="309.90" r="1.95" fill="none" stroke="#000" stroke-width="0.8"/>
<circle cx="524.20" cy="314.70" r="1.95" fill="none" stroke="#000" stroke-width="0.8"/>
<circle cx="526.30" cy="315.30" r="1.95" fill="none" stroke="#000" stroke-width="0.8"/>
<circle cx="528.50" cy="321.10" r="1.95" fill="none" stroke="#000" stroke-width="0.8"/>
<circle cx="526.80" cy="327.60" r="1.95" fill="none" stroke="#000" stroke-width="0.8"/>
<circle cx="530.40" cy="327.30" r="1.95" fill="none" stroke="#000" stroke-width="0.8"/>
<circle cx="524.20" cy="332.60" r="1.95" fill="none" stroke="#000" stroke-width="0.8"/>
<circle cx="532.40" cy="334.30" r="1.95" fill="none" stroke="#000" stroke-width="0.8"/>
<circle cx="532.40" cy="336.90" r="1.95" fill="none" stroke="#000" stroke-width="0.8"/>
<circle cx="525.10" cy="340.50" r="1.95" fill="none" stroke="#000" stroke-width="0.8"/>
<circle cx="528.50" cy="340.70" r="1.95" fill="none" stroke="#000" stroke-width="0.8"/>
<circle cx="528.30" cy="348.10" r="1.95" fill="none" stroke="#000" stroke-width="0.8"/>
<circle cx="526.80" cy="353.20" r="1.95" fill="none" stroke="#000" stroke-width="0.8"/>
<circle cx="532.10" cy="353.00" r="1.95" fill="none" stroke="#000" stroke-width="0.8"/>
<circle cx="525.90" cy="363.40" r="1.95" fill="none" stroke="#000" stroke-width="0.8"/>
<circle cx="532.10" cy="362.80" r="1.95" fill="none" stroke="#000" stroke-width="0.8"/>
<circle cx="532.60" cy="364.60" r="1.95" fill="none" stroke="#000" stroke-width="0.8"/>
<circle cx="527.10" cy="374.80" r="1.95" fill="none" stroke="#000" stroke-width="0.8"/>
<circle cx="524.00" cy="378.00" r="1.95" fill="none" stroke="#000" stroke-width="0.8"/>
<circle cx="527.50" cy="389.10" r="1.95" fill="none" stroke="#000" stroke-width="0.8"/>
<circle cx="525.40" cy="397.10" r="1.95" fill="none" stroke="#000" stroke-width="0.8"/>
<circle cx="524.60" cy="332.00" r="1.95" fill="none" stroke="#000" stroke-width="0.8"/>
<circle cx="524.80" cy="314.00" r="1.95" fill="none" stroke="#000" stroke-width="0.8"/>
<circle cx="570.50" cy="381.70" r="1.95" fill="none" stroke="#000" stroke-width="0.8"/>
<circle cx="573.60" cy="385.40" r="1.95" fill="none" stroke="#000" stroke-width="0.8"/>
<circle cx="575.20" cy="389.90" r="1.95" fill="none" stroke="#000" stroke-width="0.8"/>
<circle cx="568.10" cy="394.60" r="1.95" fill="none" stroke="#000" stroke-width="0.8"/>
<circle cx="568.90" cy="396.00" r="1.95" fill="none" stroke="#000" stroke-width="0.8"/>
<circle cx="567.90" cy="397.70" r="1.95" fill="none" stroke="#000" stroke-width="0.8"/>
<circle cx="575.00" cy="400.30" r="1.95" fill="none" stroke="#000" stroke-width="0.8"/>
<circle cx="573.20" cy="403.80" r="1.95" fill="none" stroke="#000" stroke-width="0.8"/>
<circle cx="569.50" cy="406.90" r="1.95" fill="none" stroke="#000" stroke-width="0.8"/>
<circle cx="611.40" cy="412.40" r="1.95" fill="none" stroke="#000" stroke-width="0.8"/>
<circle cx="615.50" cy="413.00" r="1.95" fill="none" stroke="#000" stroke-width="0.8"/>
<circle cx="619.00" cy="413.00" r="1.95" fill="none" stroke="#000" stroke-width="0.8"/>
<circle cx="612.50" cy="413.40" r="1.95" fill="none" stroke="#000" stroke-width="0.8"/>
<circle cx="614.00" cy="412.60" r="1.95" fill="none" stroke="#000" stroke-width="0.8"/>
<circle cx="617.50" cy="413.20" r="1.95" fill="none" stroke="#000" stroke-width="0.8"/>
<circle cx="616.00" cy="413.80" r="1.95" fill="none" stroke="#000" stroke-width="0.8"/>
<circle cx="612.80" cy="412.80" r="1.95" fill="none" stroke="#000" stroke-width="0.8"/>
<circle cx="658.40" cy="401.10" r="1.95" fill="none" stroke="#000" stroke-width="0.8"/>
<circle cx="657.40" cy="407.50" r="1.95" fill="none" stroke="#000" stroke-width="0.8"/>
<circle cx="659.50" cy="410.90" r="1.95" fill="none" stroke="#000" stroke-width="0.8"/>
<circle cx="661.90" cy="412.60" r="1.95" fill="none" stroke="#000" stroke-width="0.8"/>
<circle cx="663.10" cy="414.40" r="1.95" fill="none" stroke="#000" stroke-width="0.8"/>
<circle cx="658.40" cy="412.00" r="1.95" fill="none" stroke="#000" stroke-width="0.8"/>
<circle cx="660.50" cy="413.00" r="1.95" fill="none" stroke="#000" stroke-width="0.8"/>
<circle cx="662.00" cy="411.50" r="1.95" fill="none" stroke="#000" stroke-width="0.8"/>
<text x="441.40" y="380.60" font-size="12.3" text-anchor="middle">****</text>
<text x="441.40" y="388.60" font-size="12.3" text-anchor="middle">#</text>
<text x="441.40" y="401.60" font-size="12.3" text-anchor="middle">(8)</text>
<text x="484.90" y="354.10" font-size="12.3" text-anchor="middle">**</text>
<text x="484.90" y="361.50" font-size="12.3" text-anchor="middle">##</text>
<text x="484.90" y="374.70" font-size="12.3" text-anchor="middle">(10)</text>
<text x="528.40" y="218.80" font-size="12.3" text-anchor="middle">####</text>
<text x="528.40" y="231.30" font-size="12.3" text-anchor="middle">(29)</text>
<text x="571.90" y="352.70" font-size="12.3" text-anchor="middle">*</text>
<text x="571.90" y="360.50" font-size="12.3" text-anchor="middle">###</text>
<text x="571.90" y="373.20" font-size="12.3" text-anchor="middle">(9)</text>
<text x="615.40" y="382.10" font-size="12.3" text-anchor="middle">****</text>
<text x="615.40" y="389.50" font-size="12.3" text-anchor="middle">##</text>
<text x="615.40" y="402.20" font-size="12.3" text-anchor="middle">(8)</text>
<text x="658.90" y="384.80" font-size="12.3" text-anchor="middle">****</text>
<text x="658.90" y="392.30" font-size="12.3" text-anchor="middle">(8)</text>
<text x="0.00" y="512.50" font-size="24" font-weight="bold">d</text>
<g transform="translate(0.00,0.00)"><path d="M71.1,541.8 L79.4,541.8 L77.3,558.2 L72.5,558.2 Z" fill="#c400c4"/><path d="M66.8,537.6 C70,536.8 76,536.6 80.3,537.6 L80,540.6 C77,542 72,542.2 68,541.2 C66.8,540.6 66.5,538.8 66.8,537.6 Z" fill="#c49690"/><path d="M40.2,535 L43.8,536.8 C43.2,539.2 40.5,540.4 36.5,541.1 C34.2,541.4 32,541.2 31.8,540.4 C32.6,539.3 35.5,538.8 38.2,538 Z" fill="#c49690"/><path d="M23.3,522.9 C24.5,520 28,518 31,517 C34,515.8 36.5,515.3 38.2,514.6 C38.8,513 39.8,512.1 41,512.1 C42.4,512.2 43.4,513 43.3,514.6 C46,515.6 50,516.1 56.5,516 C62,515.9 68,516.1 73.5,518.1 C79.5,520.4 83.9,525.3 85.9,530.3 C86.6,533 85.6,535.6 82.5,537.3 C78,538.9 72,539.4 66,539 C60,538.7 53,539.1 48,538.3 C45.5,537.9 43.8,537.6 42.3,536.8 C41.2,534.8 40.2,532.6 38.2,531.2 C35.5,530 32,529.2 28.8,527.8 C26.2,526.6 24.4,525.2 23.5,523.9 C23.2,523.5 23.1,523.2 23.3,522.9 Z" fill="#4e4947"/><path d="M48,537.2 C56,537.5 64,536.5 70,533.5 C72.5,530 73.5,525.5 75.5,521.6 C80.5,523.6 84.8,527 85.9,531 C86.3,534 84,536.6 80.5,537.9 C74,539.2 65,539.4 56,539.1 C52,539 49.5,538.6 48,537.2 Z" fill="#433e3c"/><ellipse cx="43.4" cy="519.2" rx="2.7" ry="3.6" fill="#c4918b" transform="rotate(-10 43.4 519.2)"/><circle cx="32.3" cy="521.0" r="1.35" fill="#161212"/><circle cx="23.6" cy="522.9" r="0.8" fill="#b88985"/><path d="M23.4,520.2 L21.6,516 M24.2,519.8 L23.3,515.4" stroke="#dcd8d8" stroke-width="0.6"/><path d="M84.6,533.4 C90.5,534.4 96.6,537.4 97.2,542 C97.8,546.8 93,549.8 86.5,549.6 C79,549.8 71,547.2 64,546 C60,545.3 57,545.3 55,546.2" fill="none" stroke="#bf928c" stroke-width="2.4" stroke-linecap="round"/><rect x="69.9" y="558.2" width="10.7" height="2.9" rx="0.8" fill="#fff" stroke="#333" stroke-width="0.9"/><path d="M70.6,561.1 L80,561.1 L78.1,565.4 L72.4,565.4 Z" fill="#fff" stroke="#333" stroke-width="0.9" stroke-linejoin="round"/><path d="M72.4,565.4 L72.4,579.6 L78.1,579.6 L78.1,565.4" fill="#fff" stroke="#333" stroke-width="0.9"/><path d="M72.6,579.6 L72.8,582.6 C73,583.8 73.8,584.2 75.25,584.2 C76.7,584.2 77.5,583.8 77.7,582.6 L77.9,579.6 Z" fill="#fff" stroke="#333" stroke-width="0.9"/><rect x="74.3" y="569.7" width="1.5" height="4" rx="0.5" fill="none" stroke="#333" stroke-width="0.65"/></g>
<text x="48.30" y="555.60" font-size="11" font-weight="bold" text-anchor="middle" fill="#c400c4">LIA:</text>
<text x="48.30" y="566.80" font-size="11" font-weight="bold" text-anchor="middle" fill="#c400c4">365 nm</text>
<text x="48.30" y="577.90" font-size="11" font-weight="bold" text-anchor="middle" fill="#c400c4">10 min</text>
<line x1="42.00" y1="586.30" x2="257.00" y2="586.30" stroke="#000" stroke-width="1.8"/>
<path d="M256,582.4 L263.4,586.3 L256,590.2 Z" fill="#000"/>
<line x1="101.10" y1="583.50" x2="101.10" y2="586.30" stroke="#000" stroke-width="1.2"/>
<text x="101.10" y="582.70" font-size="10.5" text-anchor="middle">1</text>
<line x1="148.30" y1="583.50" x2="148.30" y2="586.30" stroke="#000" stroke-width="1.2"/>
<text x="148.30" y="582.70" font-size="10.5" text-anchor="middle">3</text>
<line x1="218.50" y1="583.50" x2="218.50" y2="586.30" stroke="#000" stroke-width="1.2"/>
<text x="218.50" y="582.70" font-size="10.5" text-anchor="middle">6</text>
<path d="M71.20,587.90 L74.40,593.50 L68.00,593.50 Z" fill="#808080"/>
<line x1="71.20" y1="593.00" x2="71.20" y2="604.60" stroke="#808080" stroke-width="2.6"/>
<path d="M78.20,587.90 L81.40,593.50 L75.00,593.50 Z" fill="#808080"/>
<line x1="78.20" y1="593.00" x2="78.20" y2="604.60" stroke="#808080" stroke-width="2.6"/>
<path d="M101.10,587.90 L104.30,593.50 L97.90,593.50 Z" fill="#808080"/>
<line x1="101.10" y1="593.00" x2="101.10" y2="604.60" stroke="#808080" stroke-width="2.6"/>
<path d="M148.30,587.90 L151.50,593.50 L145.10,593.50 Z" fill="#808080"/>
<line x1="148.30" y1="593.00" x2="148.30" y2="604.60" stroke="#808080" stroke-width="2.6"/>
<path d="M218.50,587.90 L221.70,593.50 L215.30,593.50 Z" fill="#808080"/>
<line x1="218.50" y1="593.00" x2="218.50" y2="604.60" stroke="#808080" stroke-width="2.6"/>
<text x="239.40" y="575.90" font-size="11.5" textLength="58.20" lengthAdjust="spacingAndGlyphs">Time (hour)</text>
<path d="M112.10,619.40 L115.30,625.00 L108.90,625.00 Z" fill="#808080"/>
<line x1="112.10" y1="624.50" x2="112.10" y2="634.90" stroke="#808080" stroke-width="2.6"/>
<text x="118.40" y="633.60" font-size="11" textLength="66.60" lengthAdjust="spacingAndGlyphs">Von Frey test</text>
<text x="373.80" y="513.30" font-size="24" font-weight="bold">e</text>
<g transform="translate(416.30,-3.50)"><path d="M71.1,541.8 L79.4,541.8 L77.3,558.2 L72.5,558.2 Z" fill="#c400c4"/><path d="M66.8,537.6 C70,536.8 76,536.6 80.3,537.6 L80,540.6 C77,542 72,542.2 68,541.2 C66.8,540.6 66.5,538.8 66.8,537.6 Z" fill="#c49690"/><path d="M40.2,535 L43.8,536.8 C43.2,539.2 40.5,540.4 36.5,541.1 C34.2,541.4 32,541.2 31.8,540.4 C32.6,539.3 35.5,538.8 38.2,538 Z" fill="#c49690"/><path d="M23.3,522.9 C24.5,520 28,518 31,517 C34,515.8 36.5,515.3 38.2,514.6 C38.8,513 39.8,512.1 41,512.1 C42.4,512.2 43.4,513 43.3,514.6 C46,515.6 50,516.1 56.5,516 C62,515.9 68,516.1 73.5,518.1 C79.5,520.4 83.9,525.3 85.9,530.3 C86.6,533 85.6,535.6 82.5,537.3 C78,538.9 72,539.4 66,539 C60,538.7 53,539.1 48,538.3 C45.5,537.9 43.8,537.6 42.3,536.8 C41.2,534.8 40.2,532.6 38.2,531.2 C35.5,530 32,529.2 28.8,527.8 C26.2,526.6 24.4,525.2 23.5,523.9 C23.2,523.5 23.1,523.2 23.3,522.9 Z" fill="#4e4947"/><path d="M48,537.2 C56,537.5 64,536.5 70,533.5 C72.5,530 73.5,525.5 75.5,521.6 C80.5,523.6 84.8,527 85.9,531 C86.3,534 84,536.6 80.5,537.9 C74,539.2 65,539.4 56,539.1 C52,539 49.5,538.6 48,537.2 Z" fill="#433e3c"/><ellipse cx="43.4" cy="519.2" rx="2.7" ry="3.6" fill="#c4918b" transform="rotate(-10 43.4 519.2)"/><circle cx="32.3" cy="521.0" r="1.35" fill="#161212"/><circle cx="23.6" cy="522.9" r="0.8" fill="#b88985"/><path d="M23.4,520.2 L21.6,516 M24.2,519.8 L23.3,515.4" stroke="#dcd8d8" stroke-width="0.6"/><path d="M84.6,533.4 C90.5,534.4 96.6,537.4 97.2,542 C97.8,546.8 93,549.8 86.5,549.6 C79,549.8 71,547.2 64,546 C60,545.3 57,545.3 55,546.2" fill="none" stroke="#bf928c" stroke-width="2.4" stroke-linecap="round"/><rect x="69.9" y="558.2" width="10.7" height="2.9" rx="0.8" fill="#fff" stroke="#333" stroke-width="0.9"/><path d="M70.6,561.1 L80,561.1 L78.1,565.4 L72.4,565.4 Z" fill="#fff" stroke="#333" stroke-width="0.9" stroke-linejoin="round"/><path d="M72.4,565.4 L72.4,579.6 L78.1,579.6 L78.1,565.4" fill="#fff" stroke="#333" stroke-width="0.9"/><path d="M72.6,579.6 L72.8,582.6 C73,583.8 73.8,584.2 75.25,584.2 C76.7,584.2 77.5,583.8 77.7,582.6 L77.9,579.6 Z" fill="#fff" stroke="#333" stroke-width="0.9"/><rect x="74.3" y="569.7" width="1.5" height="4" rx="0.5" fill="none" stroke="#333" stroke-width="0.65"/></g>
<text x="461.00" y="557.80" font-size="11" font-weight="bold" text-anchor="middle" fill="#c400c4">LIA:</text>
<text x="461.00" y="569.00" font-size="11" font-weight="bold" text-anchor="middle" fill="#c400c4">365 nm</text>
<line x1="446.30" y1="586.10" x2="622.00" y2="586.10" stroke="#000" stroke-width="1.8"/>
<path d="M621,582.3 L628.2,586.1 L621,589.9 Z" fill="#000"/>
<rect x="539.6" y="583" width="5" height="6" fill="#fff"/>
<line x1="537.60" y1="591.00" x2="542.60" y2="581.40" stroke="#000" stroke-width="1.2"/>
<line x1="541.30" y1="591.00" x2="546.40" y2="581.40" stroke="#000" stroke-width="1.2"/>
<text x="526.00" y="577.80" font-size="11" textLength="31.50" lengthAdjust="spacingAndGlyphs">1 hour</text>
<text x="603.00" y="580.00" font-size="11" textLength="23.80" lengthAdjust="spacingAndGlyphs">Time</text>
<line x1="509.90" y1="554.40" x2="509.90" y2="576.50" stroke="#000" stroke-width="1.2"/>
<path d="M507.4,575.5 L512.4,575.5 L509.9,580 Z" fill="#000"/>
<path d="M482.70,587.90 L485.90,593.50 L479.50,593.50 Z" fill="#808080"/>
<line x1="482.70" y1="593.00" x2="482.70" y2="604.60" stroke="#808080" stroke-width="2.6"/>
<path d="M498.00,587.90 L501.20,593.50 L494.80,593.50 Z" fill="#808080"/>
<line x1="498.00" y1="593.00" x2="498.00" y2="604.60" stroke="#808080" stroke-width="2.6"/>
<path d="M586.10,587.90 L589.30,593.50 L582.90,593.50 Z" fill="#808080"/>
<line x1="586.10" y1="593.00" x2="586.10" y2="604.60" stroke="#808080" stroke-width="2.6"/>
<path d="M499.30,617.50 L502.50,623.10 L496.10,623.10 Z" fill="#808080"/>
<line x1="499.30" y1="622.60" x2="499.30" y2="634.90" stroke="#808080" stroke-width="2.6"/>
<text x="505.30" y="632.40" font-size="11" textLength="67.60" lengthAdjust="spacingAndGlyphs">Von Frey test</text>
<g transform="translate(515.90,552.80) rotate(-54.3) scale(1.0)" stroke="#000" stroke-width="1.0" fill="none"><line x1="0" y1="0" x2="11" y2="0"/><rect x="11" y="-2" width="5.5" height="4" rx="1.2" fill="#fff"/><rect x="16.5" y="-3.6" width="19.5" height="7.2" fill="#fff"/><rect x="18" y="-2.3" width="7" height="4.6" fill="#000" stroke="none"/><path d="M27.5,3.6 L27.5,1.6 M29.8,3.6 L29.8,1.6 M32.1,3.6 L32.1,1.6" stroke-width="0.7"/><line x1="36" y1="-5.6" x2="36" y2="5.6"/><line x1="36" y1="0" x2="42.5" y2="0"/><line x1="42.5" y1="-4" x2="42.5" y2="4"/></g>
<text x="580.00" y="511.20" font-size="11" text-anchor="middle" textLength="68.60" lengthAdjust="spacingAndGlyphs">paw injection:</text>
<text x="578.4" y="522.8" font-size="11" text-anchor="middle" textLength="45" lengthAdjust="spacingAndGlyphs"><tspan fill="#5b9bd5">Saline</tspan> or</text>
<text x="579.60" y="534.90" font-size="11" text-anchor="middle" fill="#c81e1e" textLength="64.40" lengthAdjust="spacingAndGlyphs">RU-TRAAK2</text>
<text x="2.00" y="664.60" font-size="25" font-weight="bold" textLength="9.50" lengthAdjust="spacingAndGlyphs">f</text>
<line x1="64.30" y1="696.20" x2="64.30" y2="843.50" stroke="#000" stroke-width="2"/>
<line x1="61.30" y1="843.00" x2="87.60" y2="843.00" stroke="#000" stroke-width="2"/>
<line x1="91.40" y1="843.00" x2="293.20" y2="843.00" stroke="#000" stroke-width="2"/>
<line x1="84.70" y1="848.20" x2="90.40" y2="837.60" stroke="#000" stroke-width="1.9"/>
<line x1="88.50" y1="848.20" x2="94.50" y2="837.80" stroke="#000" stroke-width="1.9"/>
<line x1="60.50" y1="842.70" x2="64.30" y2="842.70" stroke="#000" stroke-width="1.5"/>
<text x="57.20" y="846.80" font-size="11.5" text-anchor="end">0</text>
<line x1="60.50" y1="804.20" x2="64.30" y2="804.20" stroke="#000" stroke-width="1.5"/>
<text x="57.20" y="808.30" font-size="11.5" text-anchor="end">1</text>
<line x1="60.50" y1="765.70" x2="64.30" y2="765.70" stroke="#000" stroke-width="1.5"/>
<text x="57.20" y="769.80" font-size="11.5" text-anchor="end">2</text>
<line x1="60.50" y1="727.20" x2="64.30" y2="727.20" stroke="#000" stroke-width="1.5"/>
<text x="57.20" y="731.30" font-size="11.5" text-anchor="end">3</text>
<line x1="74.60" y1="843.00" x2="74.60" y2="846.30" stroke="#000" stroke-width="1.5"/>
<line x1="104.50" y1="843.00" x2="104.50" y2="846.30" stroke="#000" stroke-width="1.5"/>
<line x1="134.20" y1="843.00" x2="134.20" y2="846.30" stroke="#000" stroke-width="1.5"/>
<line x1="193.60" y1="843.00" x2="193.60" y2="846.30" stroke="#000" stroke-width="1.5"/>
<line x1="282.70" y1="843.00" x2="282.70" y2="846.30" stroke="#000" stroke-width="1.5"/>
<text x="84.00" y="857.80" font-size="12.5" text-anchor="end">pre-</text>
<text x="83.50" y="870.30" font-size="12.5" text-anchor="end">illumination</text>
<text x="91.20" y="857.80" font-size="12.5">post-</text>
<text x="91.20" y="870.30" font-size="12.5">illumination</text>
<text x="134.20" y="857.80" font-size="12.5" text-anchor="middle">1</text>
<text x="193.60" y="857.80" font-size="12.5" text-anchor="middle">3</text>
<text x="282.70" y="857.80" font-size="12.5" text-anchor="middle">6</text>
<text x="179.00" y="881.90" font-size="12.5" font-weight="bold" text-anchor="middle" textLength="221.50" lengthAdjust="spacingAndGlyphs">Time after 365 nm illumination (hour)</text>
<text x="31.00" y="769.70" font-size="12.5" font-weight="bold" text-anchor="middle" transform="rotate(-90 31.00 769.70)">Von Frey</text>
<text x="44.60" y="769.70" font-size="12.5" font-weight="bold" text-anchor="middle" textLength="144.00" lengthAdjust="spacingAndGlyphs" transform="rotate(-90 44.60 769.70)">withdrawal threshold (g)</text>
<line x1="74.60" y1="776.64" x2="74.60" y2="788.64" stroke="#000" stroke-width="1.6"/>
<line x1="104.50" y1="773.18" x2="104.50" y2="785.18" stroke="#000" stroke-width="1.6"/>
<line x1="134.20" y1="775.49" x2="134.20" y2="787.49" stroke="#000" stroke-width="1.6"/>
<line x1="193.60" y1="777.80" x2="193.60" y2="789.80" stroke="#000" stroke-width="1.6"/>
<line x1="282.70" y1="778.57" x2="282.70" y2="790.57" stroke="#000" stroke-width="1.6"/>
<polyline points="74.60,782.64 104.50,779.18 134.20,781.49 193.60,783.80 282.70,784.57" fill="none" stroke="#000" stroke-width="2.4" stroke-linejoin="round"/>
<rect x="70.35" y="778.24" width="8.5" height="8.8" fill="#000"/>
<rect x="100.25" y="774.78" width="8.5" height="8.8" fill="#000"/>
<rect x="129.95" y="777.09" width="8.5" height="8.8" fill="#000"/>
<rect x="189.35" y="779.40" width="8.5" height="8.8" fill="#000"/>
<rect x="278.45" y="780.17" width="8.5" height="8.8" fill="#000"/>
<line x1="74.60" y1="778.40" x2="74.60" y2="784.57" stroke="#c400c4" stroke-width="1.6"/>
<line x1="104.50" y1="696.40" x2="104.50" y2="716.42" stroke="#c400c4" stroke-width="1.6"/>
<line x1="134.20" y1="724.51" x2="134.20" y2="748.38" stroke="#c400c4" stroke-width="1.6"/>
<line x1="193.60" y1="763.01" x2="193.60" y2="776.10" stroke="#c400c4" stroke-width="1.6"/>
<line x1="282.70" y1="784.95" x2="282.70" y2="788.80" stroke="#c400c4" stroke-width="1.6"/>
<polyline points="74.60,781.49 104.50,706.41 134.20,736.44 193.60,769.55 282.70,786.88" fill="none" stroke="#c400c4" stroke-width="2.4" stroke-linejoin="round"/>
<circle cx="74.60" cy="781.49" r="4.5" fill="#c400c4"/>
<circle cx="104.50" cy="706.41" r="4.5" fill="#c400c4"/>
<circle cx="134.20" cy="736.44" r="4.5" fill="#c400c4"/>
<circle cx="193.60" cy="769.55" r="4.5" fill="#c400c4"/>
<circle cx="282.70" cy="786.88" r="4.5" fill="#c400c4"/>
<text x="104.50" y="692.50" font-size="11" text-anchor="middle" fill="#c400c4">***</text>
<text x="134.20" y="720.50" font-size="11" text-anchor="middle" fill="#c400c4">*</text>
<line x1="161.30" y1="686.40" x2="161.30" y2="702.60" stroke="#000" stroke-width="1.6"/>
<rect x="157.3" y="690.5" width="8" height="8" fill="#000"/>
<text x="175.10" y="698.60" font-size="12.5" textLength="105.60" lengthAdjust="spacingAndGlyphs">no illumination (14)</text>
<line x1="161.30" y1="708.30" x2="161.30" y2="724.30" stroke="#c400c4" stroke-width="1.6"/>
<circle cx="161.3" cy="716" r="4.3" fill="#c400c4"/>
<text x="175.10" y="720.10" font-size="12.5" textLength="135.50" lengthAdjust="spacingAndGlyphs">LIA: 10 min 365 nm (14)</text>
<text x="373.50" y="665.50" font-size="24" font-weight="bold">g</text>
<line x1="429.30" y1="690.20" x2="429.30" y2="843.70" stroke="#000" stroke-width="2"/>
<line x1="427.50" y1="842.90" x2="512.40" y2="842.90" stroke="#000" stroke-width="2"/>
<line x1="516.20" y1="842.90" x2="676.20" y2="842.90" stroke="#000" stroke-width="2"/>
<line x1="509.30" y1="848.30" x2="515.10" y2="838.30" stroke="#000" stroke-width="1.9"/>
<line x1="513.20" y1="848.50" x2="519.10" y2="838.30" stroke="#000" stroke-width="1.9"/>
<line x1="425.50" y1="842.90" x2="429.30" y2="842.90" stroke="#000" stroke-width="1.5"/>
<text x="422.20" y="847.00" font-size="11.5" text-anchor="end">0</text>
<line x1="425.50" y1="778.20" x2="429.30" y2="778.20" stroke="#000" stroke-width="1.5"/>
<text x="422.20" y="782.30" font-size="11.5" text-anchor="end">2</text>
<line x1="425.50" y1="713.50" x2="429.30" y2="713.50" stroke="#000" stroke-width="1.5"/>
<text x="422.20" y="717.60" font-size="11.5" text-anchor="end">4</text>
<line x1="475.20" y1="842.90" x2="475.20" y2="846.40" stroke="#000" stroke-width="1.5"/>
<line x1="552.80" y1="842.90" x2="552.80" y2="846.40" stroke="#000" stroke-width="1.5"/>
<line x1="630.30" y1="842.90" x2="630.30" y2="846.40" stroke="#000" stroke-width="1.5"/>
<text x="475.20" y="859.40" font-size="12.5" text-anchor="middle">pre-</text>
<text x="475.20" y="869.90" font-size="12.5" text-anchor="middle">illumination</text>
<text x="552.80" y="859.60" font-size="12.5" text-anchor="middle">post-</text>
<text x="552.80" y="871.00" font-size="12.5" text-anchor="middle">illumination</text>
<text x="630.30" y="859.60" font-size="12.5" text-anchor="middle">1 hour post-</text>
<text x="630.30" y="871.00" font-size="12.5" text-anchor="middle">injection</text>
<text x="395.80" y="767.00" font-size="12.5" font-weight="bold" text-anchor="middle" transform="rotate(-90 395.80 767.00)">Von Frey</text>
<text x="409.40" y="767.00" font-size="12.5" font-weight="bold" text-anchor="middle" textLength="144.00" lengthAdjust="spacingAndGlyphs" transform="rotate(-90 409.40 767.00)">withdrawal threshold (g)</text>
<line x1="475.20" y1="789.52" x2="475.20" y2="795.99" stroke="#c00000" stroke-width="1.3"/>
<line x1="552.80" y1="690.21" x2="552.80" y2="736.79" stroke="#c00000" stroke-width="1.3"/>
<line x1="630.30" y1="772.70" x2="630.30" y2="803.11" stroke="#c00000" stroke-width="1.3"/>
<line x1="475.20" y1="786.93" x2="475.20" y2="803.11" stroke="#5b9bd5" stroke-width="1.3" stroke-opacity="0.85"/>
<line x1="552.80" y1="712.53" x2="552.80" y2="735.82" stroke="#5b9bd5" stroke-width="1.3" stroke-opacity="0.85"/>
<line x1="630.30" y1="689.88" x2="630.30" y2="737.12" stroke="#5b9bd5" stroke-width="1.3" stroke-opacity="0.85"/>
<polyline points="475.20,795.02 552.80,724.18 630.30,713.50" fill="none" stroke="#5b9bd5" stroke-width="2.4" stroke-linejoin="round"/>
<circle cx="475.20" cy="792.76" r="4.4" fill="#c00000"/>
<circle cx="552.80" cy="713.50" r="4.4" fill="#c00000"/>
<circle cx="630.30" cy="787.90" r="4.4" fill="#c00000"/>
<rect x="470.80" y="790.62" width="8.8" height="8.8" fill="#5b9bd5"/>
<rect x="548.40" y="719.78" width="8.8" height="8.8" fill="#5b9bd5"/>
<rect x="625.90" y="709.10" width="8.8" height="8.8" fill="#5b9bd5"/>
<polyline points="475.20,792.76 552.80,713.50 630.30,787.90" fill="none" stroke="#c00000" stroke-width="2.5" stroke-linejoin="round"/>
<text x="630.30" y="688.50" font-size="11" text-anchor="middle">**</text>
<text x="440.60" y="664.70" font-size="12.5" font-weight="bold">Injected solution</text>
<line x1="441.40" y1="671.30" x2="441.40" y2="687.00" stroke="#c00000" stroke-width="1.5"/>
<circle cx="441.4" cy="679.2" r="4.4" fill="#c00000"/>
<text x="455.10" y="683.90" font-size="12.5">RU-TRAAK2 (6)</text>
<line x1="441.40" y1="692.30" x2="441.40" y2="708.00" stroke="#5b9bd5" stroke-width="1.5"/>
<rect x="437.4" y="696.2" width="8" height="8" fill="#5b9bd5"/>
<text x="455.10" y="704.90" font-size="12.5">Saline (6)</text>
<g transform="translate(555.30,673.80) rotate(-52) scale(0.6)" stroke="#222" stroke-width="1.2" fill="none"><line x1="0" y1="0" x2="11" y2="0"/><rect x="11" y="-2" width="5.5" height="4" rx="1.2" fill="#fff"/><rect x="16.5" y="-3.6" width="19.5" height="7.2" fill="#fff"/><rect x="18" y="-2.3" width="7" height="4.6" fill="#222" stroke="none"/><path d="M27.5,3.6 L27.5,1.6 M29.8,3.6 L29.8,1.6 M32.1,3.6 L32.1,1.6" stroke-width="0.7"/><line x1="36" y1="-5.6" x2="36" y2="5.6"/><line x1="36" y1="0" x2="42.5" y2="0"/><line x1="42.5" y1="-4" x2="42.5" y2="4"/></g>
<text x="568.90" y="670.80" font-size="12.5" textLength="45.50" lengthAdjust="spacingAndGlyphs">injection</text>
<line x1="561.40" y1="674.00" x2="561.40" y2="683.00" stroke="#000" stroke-width="1.3"/>
<path d="M558.9,682 L563.9,682 L561.4,686.5 Z" fill="#000"/>
</svg>
</body></html>
